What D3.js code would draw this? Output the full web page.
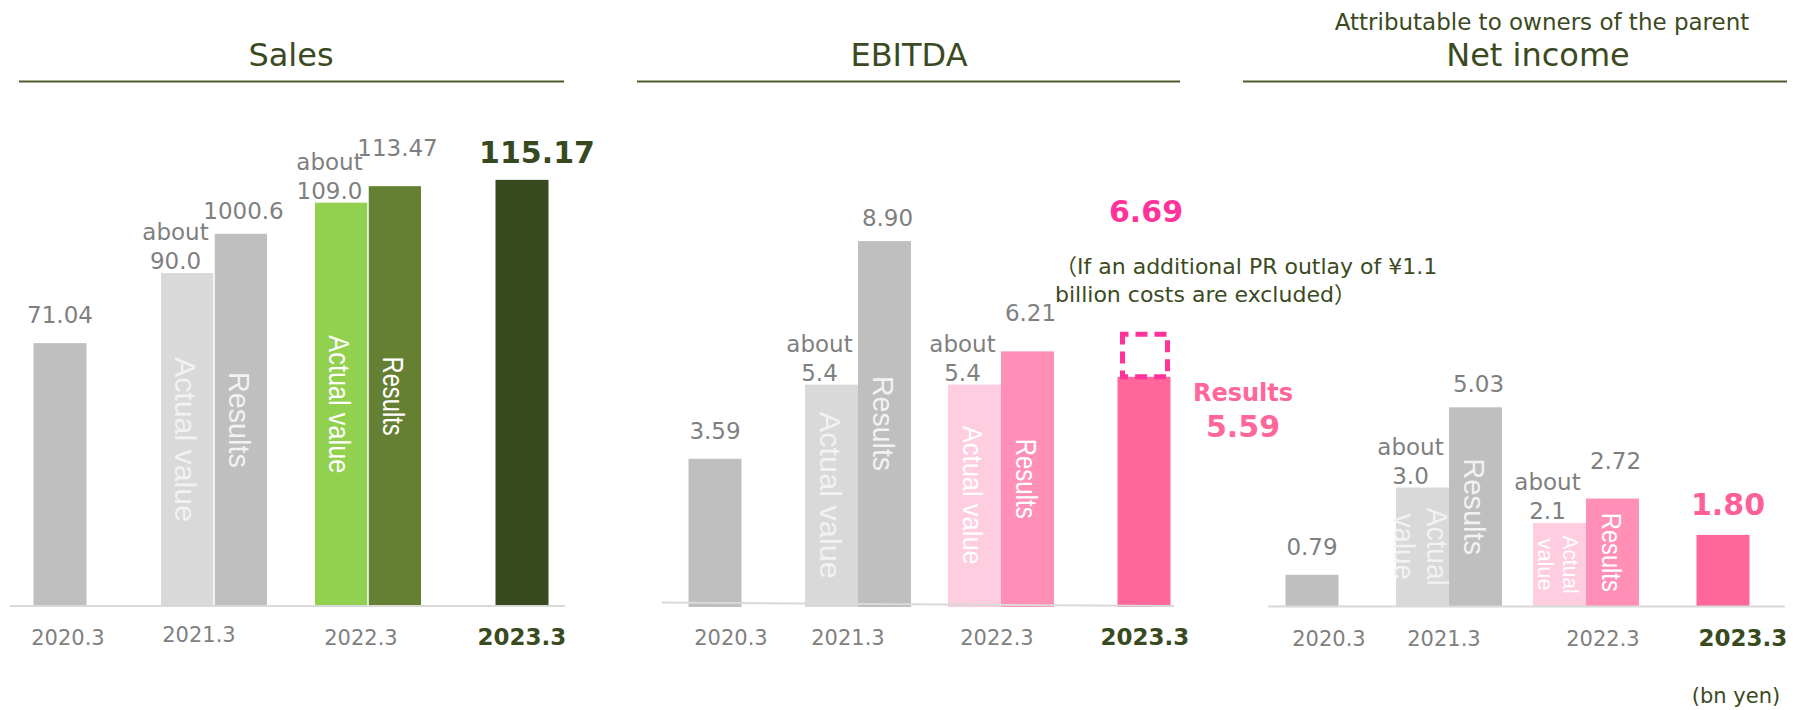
<!DOCTYPE html>
<html>
<head>
<meta charset="utf-8">
<script src="https://cdn.jsdelivr.net/npm/d3@7"></script>
<style>
  body { margin: 0; background: #fff; }
  svg { display: block; }
</style>
</head>
<body>
<div id="wrapper"></div>
<script>
// values in bn yen
const categories = ['2020.3', '2021.3', '2022.3', '2023.3'];

const salesActual = [null, 90.0, 109.0, null];
const salesResults = [71.04, 100.6, 113.47, 115.17];
const salesActualLabels = [null, '90.0', '109.0', null];
const salesResultLabels = ['71.04', '1000.6', '113.47', '115.17'];

const ebitdaActual = [null, 5.4, 5.4, null];
const ebitdaResults = [3.59, 8.90, 6.21, 5.59];
const ebitdaActualLabels = [null, '5.4', '5.4', null];
const ebitdaResultLabels = ['3.59', '8.90', '6.21', '5.59'];
const ebitdaExcludingPR = 6.69;

const netActual = [null, 3.0, 2.1, null];
const netResults = [0.79, 5.03, 2.72, 1.80];
const netActualLabels = [null, '3.0', '2.1', null];
const netResultLabels = ['0.79', '5.03', '2.72', '1.80'];

const font = "'DejaVu Sans', Verdana, 'Noto Sans CJK JP', sans-serif";
const barFont = "'Liberation Sans', Arial, sans-serif";
const olive = '#3b4a22';
const grayText = '#7f7f7f';
const base = 606;
const bw = 53;

const panels = [
  {
    title: 'Sales', actual: salesActual, results: salesResults,
    actualLabels: salesActualLabels, resultLabels: salesResultLabels,
    titleX: 291, rule: [19, 564], axis: [10, 606, 565, 606],
    xRange: [60, 522], yMax: 120, yPx: 444, gap: 1.5,
    actualFill: [null, '#d9d9d9', '#92d050'], resultFill: ['#bfbfbf', '#bfbfbf', '#668033', '#384a1f'],
    vtext: [null,
      { a: { lines: ['Actual value'], size: 30, len: [165], color: '#f2f2f2' }, r: { lines: ['Results'], size: 30, len: [96], color: '#f2f2f2' } },
      { a: { lines: ['Actual value'], size: 30, len: [138], color: '#fff' }, r: { lines: ['Results'], size: 30, len: [79], color: '#fff' } },
      null],
    labelNudge: [8, -15, -7, 0], catY: [645, 642, 645, 645]
  },
  {
    title: 'EBITDA', actual: ebitdaActual, results: ebitdaResults,
    actualLabels: ebitdaActualLabels, resultLabels: ebitdaResultLabels,
    titleX: 909, rule: [637, 1180], axis: [662, 602.5, 1174, 606],
    xRange: [715, 1144], yMax: 10, yPx: 410, gap: 0,
    actualFill: [null, '#d9d9d9', '#ffcde0'], resultFill: ['#bfbfbf', '#bfbfbf', '#ff8fb6', '#ff6699'],
    vtext: [null,
      { a: { lines: ['Actual value'], size: 30, len: [167], color: '#f2f2f2' }, r: { lines: ['Results'], size: 30, len: [95], color: '#f2f2f2' } },
      { a: { lines: ['Actual value'], size: 28, len: [139], color: '#fff' }, r: { lines: ['Results'], size: 29, len: [80], color: '#fff' } },
      null],
    labelNudge: [16, -10, -4, 1], catY: [645, 645, 645, 645]
  },
  {
    title: 'Net income', subtitle: 'Attributable to owners of the parent',
    actual: netActual, results: netResults,
    actualLabels: netActualLabels, resultLabels: netResultLabels,
    titleX: 1538, rule: [1243, 1787], axis: [1268, 606.5, 1785, 606.5],
    xRange: [1312, 1723], yMax: 6, yPx: 237, gap: 0,
    actualFill: [null, '#d9d9d9', '#ffcde0'], resultFill: ['#bfbfbf', '#bfbfbf', '#ff8fb6', '#ff6699'],
    vtext: [null,
      { a: { lines: ['Actual', 'value'], size: 29, len: [78, 66], color: '#f2f2f2' }, r: { lines: ['Results'], size: 30, len: [97], color: '#f2f2f2' } },
      { a: { lines: ['Actual', 'value'], size: 22, len: [58, 52], color: '#fff' }, r: { lines: ['Results'], size: 27, len: [79], color: '#fff' } },
      null],
    labelNudge: [17, -5, 17, 20], catY: [646, 646, 646, 646]
  }
];

const svg = d3.select('#wrapper')
  .append('svg')
  .attr('width', 1803)
  .attr('height', 710);

function label(g, x, y, txt, size, color, weight) {
  return g.append('text')
    .attr('x', x).attr('y', y)
    .attr('text-anchor', 'middle')
    .style('font-family', font)
    .style('font-size', size + 'px')
    .style('font-weight', weight || 'normal')
    .style('fill', color)
    .text(txt);
}

// rotated text in a bar, reading top to bottom
function barText(g, cx, cy, spec) {
  let offs = spec.lines.length == 1 ? [0.36] : [-0.2, 0.95];
  spec.lines.forEach(function (line, k) {
    g.append('text')
      .attr('transform', 'translate(' + cx + ',' + cy + ') rotate(90)')
      .attr('x', 0)
      .attr('y', offs[k] * spec.size)
      .attr('text-anchor', 'middle')
      .attr('textLength', spec.len[k])
      .attr('lengthAdjust', 'spacingAndGlyphs')
      .style('font-family', barFont)
      .style('font-size', spec.size + 'px')
      .style('fill', spec.color)
      .text(line);
  });
}

panels.forEach(function (p) {
  let g = svg.append('g');
  let x = d3.scalePoint().domain(categories).range(p.xRange);
  let y = d3.scaleLinear().domain([0, p.yMax]).range([base, base - p.yPx]);

  // title and rule
  if (p.subtitle) label(g, 1542, 30, p.subtitle, 23, olive);
  label(g, p.titleX, 66, p.title, 32, olive);
  g.append('line')
    .attr('x1', p.rule[0]).attr('x2', p.rule[1])
    .attr('y1', 81.5).attr('y2', 81.5)
    .style('stroke', '#4e5c2d').style('stroke-width', 2);

  // bars
  let bars = [];
  categories.forEach(function (c, i) {
    if (p.actual[i] != null) {
      bars.push({ i: i, kind: 'a', value: p.actual[i], x0: x(c) - bw, w: bw - p.gap / 2, fill: p.actualFill[i] });
      bars.push({ i: i, kind: 'r', value: p.results[i], x0: x(c) + p.gap / 2, w: bw - p.gap / 2, fill: p.resultFill[i] });
    } else {
      bars.push({ i: i, kind: 's', value: p.results[i], x0: x(c) - bw / 2, w: bw, fill: p.resultFill[i] });
    }
  });

  g.selectAll('rect.bar')
    .data(bars)
    .enter()
    .append('rect')
    .attr('class', 'bar')
    .attr('x', function (d) { return d.x0 })
    .attr('y', function (d) { return y(d.value) })
    .attr('width', function (d) { return d.w })
    .attr('height', function (d) { return base + 1 - y(d.value) })
    .style('fill', function (d) { return d.fill });

  g.append('line')
    .attr('x1', p.axis[0]).attr('y1', p.axis[1])
    .attr('x2', p.axis[2]).attr('y2', p.axis[3])
    .style('stroke', '#d9d9d9').style('stroke-width', 2);

  // text inside bars
  bars.forEach(function (d) {
    let spec = p.vtext[d.i];
    if (!spec || d.kind == 's') return;
    let s = d.kind == 'a' ? spec.a : spec.r;
    barText(g, d.x0 + d.w / 2 - 1, (y(d.value) + base) / 2, s);
  });

  // value labels
  categories.forEach(function (c, i) {
    let cx = x(c);
    if (p.actual[i] != null) {
      let ya = y(p.actual[i]) - 4;
      label(g, cx - bw / 2 - 12, ya - 29, 'about', 23, grayText);
      label(g, cx - bw / 2 - 12, ya, p.actualLabels[i], 23, grayText);
      label(g, cx + bw / 2 + 3, y(p.results[i]) - (i == 1 ? 15 : 30), p.resultLabels[i], 23, grayText);
    } else if (i == 0) {
      label(g, cx, y(p.results[i]) - 20, p.resultLabels[i], 23, grayText);
    }
  });

  let last = categories[3];
  let lx = x(last);
  if (p.title == 'Sales') {
    label(g, lx + 15, y(p.results[3]) - 17, p.resultLabels[3], 30, '#374a1f', 'bold');
  } else if (p.title == 'Net income') {
    label(g, lx + 5, y(p.results[3]) - 20, p.resultLabels[3], 30, '#ff5f97', 'bold');
  } else {
    let top = y(ebitdaExcludingPR);
    let res = y(p.results[3]);
    g.append('rect')
      .attr('x', lx - bw / 2 + 5)
      .attr('y', top + 2.5)
      .attr('width', bw - 8)
      .attr('height', res - top - 2.5)
      .style('fill', 'none')
      .style('stroke', '#ff3399')
      .style('stroke-width', 5)
      .style('stroke-dasharray', '12 7')
      .style('stroke-dashoffset', 6);
    label(g, lx + 2, top - 110, d3.format('.2f')(ebitdaExcludingPR), 30, '#ff3399', 'bold');
    g.append('text')
      .attr('x', lx - 89).attr('y', top - 58)
      .style('font-family', font).style('font-size', '22px').style('fill', olive)
      .text('（If an additional PR outlay of ¥1.1');
    g.append('text')
      .attr('x', lx - 89).attr('y', top - 30)
      .style('font-family', font).style('font-size', '22px').style('fill', olive)
      .text('billion costs are excluded）');
    label(g, lx + 99, res + 24, 'Results', 24, '#ff6699', 'bold');
    label(g, lx + 99, res + 60, p.resultLabels[3], 30, '#ff6699', 'bold');
  }

  // category labels
  categories.forEach(function (c, i) {
    let bold = i == 3;
    label(g, x(c) + p.labelNudge[i], p.catY[i], c, bold ? 23 : 21, bold ? '#3a4a1f' : grayText, bold ? 'bold' : 'normal');
  });
});

label(svg, 1736, 703, '(bn yen)', 21, olive);
</script>
</body>
</html>
